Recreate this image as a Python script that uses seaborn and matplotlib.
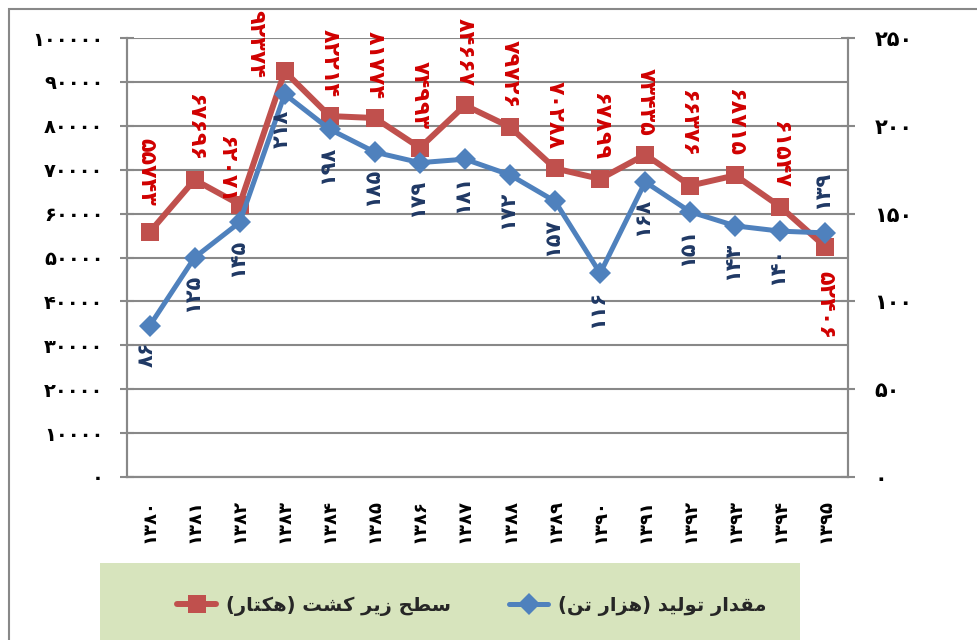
import matplotlib
matplotlib.use("Agg")
import matplotlib.pyplot as plt
import seaborn as sns
import pandas as pd
import numpy as np
from matplotlib.lines import Line2D
from matplotlib.patches import Rectangle
from matplotlib import font_manager
from matplotlib.ft2font import FT2Font

# ---------------- data ----------------
years = [1380, 1381, 1382, 1383, 1384, 1385, 1386, 1387,
         1388, 1389, 1390, 1391, 1392, 1393, 1394, 1395]
area_ha = [55743, 67696, 62071, 92374, 82214, 81774, 74993, 84667,
           79726, 70288, 67899, 73435, 66376, 68715, 61547, 52406]
production_kt = [86, 125, 145, 218, 198, 185, 179, 181,
                 172, 157, 116, 168, 151, 143, 140, 139]
left_ticks = [0, 10000, 20000, 30000, 40000, 50000, 60000, 70000, 80000, 90000, 100000]
right_ticks = [0, 50, 100, 150, 200, 250]
label_area = "سطح زیر کشت (هکتار)"
label_prod = "مقدار تولید (هزار تن)"

# label placement tweaks (pixels) for a few crowded red labels
red_label_shift = {1380: (-3, 8), 1382: (-14, -18), 1383: (-29, -26), 1392: (-2, 10)}

# ---------------- helpers ----------------
sns.set_theme(style="white")
plt.rcParams['font.family'] = ['DejaVu Sans']

def font_has(weight, chars):
    path = font_manager.findfont(font_manager.FontProperties(family='DejaVu Sans', weight=weight))
    cmap = FT2Font(path).get_charmap()
    return all(ord(c) in cmap for c in chars)

FA = str.maketrans('0123456789', '۰۱۲۳۴۵۶۷۸۹')
def fa(n):
    return str(n).translate(FA)

FORMS = {
    'ا': ('\uFE8D', '\uFE8E', None, None),
    'د': ('\uFEA9', '\uFEAA', None, None),
    'ر': ('\uFEAD', '\uFEAE', None, None),
    'ز': ('\uFEAF', '\uFEB0', None, None),
    'و': ('\uFEED', '\uFEEE', None, None),
    'ت': ('\uFE95', '\uFE96', '\uFE97', '\uFE98'),
    'ح': ('\uFEA1', '\uFEA2', '\uFEA3', '\uFEA4'),
    'س': ('\uFEB1', '\uFEB2', '\uFEB3', '\uFEB4'),
    'ش': ('\uFEB5', '\uFEB6', '\uFEB7', '\uFEB8'),
    'ط': ('\uFEC1', '\uFEC2', '\uFEC3', '\uFEC4'),
    'ق': ('\uFED5', '\uFED6', '\uFED7', '\uFED8'),
    'ک': ('\uFB8E', '\uFB8F', '\uFB90', '\uFB91'),
    'ل': ('\uFEDD', '\uFEDE', '\uFEDF', '\uFEE0'),
    'م': ('\uFEE1', '\uFEE2', '\uFEE3', '\uFEE4'),
    'ن': ('\uFEE5', '\uFEE6', '\uFEE7', '\uFEE8'),
    'ه': ('\uFEE9', '\uFEEA', '\uFEEB', '\uFEEC'),
    'ی': ('\uFBFC', '\uFBFD', '\uFBFE', '\uFBFF'),
}
ALT = {
    'ک': ('\uFED9', '\uFEDA', '\uFEDB', '\uFEDC'),
    'ی': ('\uFEEF', '\uFEF0', '\uFEF3', '\uFEF4'),
}

weight = 'bold' if font_has('bold', '\uFEE1\u06F1') else 'normal'
for k, v in ALT.items():
    if not font_has(weight, ''.join(FORMS[k])):
        FORMS[k] = v

def shape(text):
    out = []
    n = len(text)
    for i, ch in enumerate(text):
        if ch not in FORMS:
            out.append(ch)
            continue
        iso, fin, ini, med = FORMS[ch]
        prev = text[i - 1] if i > 0 else ''
        nxt = text[i + 1] if i + 1 < n else ''
        join_prev = prev in FORMS and FORMS[prev][2] is not None
        join_next = ini is not None and nxt in FORMS
        if join_prev and join_next:
            out.append(med)
        elif join_prev:
            out.append(fin)
        elif join_next:
            out.append(ini)
        else:
            out.append(iso)
    vis = ''.join(reversed(out))
    vis = vis.translate(str.maketrans('()', ')('))
    return vis

PX = 0.72  # points per pixel at 100 dpi

# ---------------- figure ----------------
W, H = 977, 640
fig = plt.figure(figsize=(W / 100, H / 100), dpi=100)
ax = fig.add_axes([127 / W, 1 - 477 / H, (848 - 127) / W, (477 - 38) / H])
ax2 = ax.twinx()

GRID = '#888888'
RED = '#C0504D'
BLUE = '#4F81BD'

df = pd.DataFrame({'pos': np.arange(len(years)), 'area': area_ha, 'prod': production_kt})

sns.lineplot(data=df, x='pos', y='area', ax=ax, color=RED, lw=4.3, marker='s',
             markersize=13, markeredgewidth=0, zorder=3)
sns.lineplot(data=df, x='pos', y='prod', ax=ax2, color=BLUE, lw=3.6, marker='D',
             markersize=11, markeredgewidth=0, zorder=4)

ax.set_xlim(-0.5, len(years) - 0.5)
ax.set_ylim(0, 100000)
ax2.set_ylim(0, 250)

ax.set_yticks(left_ticks)
ax.set_yticklabels([fa(t) for t in left_ticks])
ax2.set_yticks(right_ticks)
ax2.set_yticklabels([fa(t) for t in right_ticks])
ax.set_xticks(np.arange(len(years)))
ax.set_xticklabels([fa(y) for y in years], rotation=90)
ax.set_xticks(np.arange(len(years) + 1) - 0.5, minor=True)
ax.set_xlabel('')
ax.set_ylabel('')
ax2.set_ylabel('')

ax.tick_params(axis='y', direction='inout', length=10, width=1.5, color=GRID, pad=12,
               labelsize=14, labelcolor='black')
ax2.tick_params(axis='y', direction='inout', length=10, width=1.5, color=GRID, pad=14,
                labelsize=15, labelcolor='black')
ax.tick_params(axis='x', which='major', length=0, pad=16, labelsize=13, labelcolor='black')
ax.tick_params(axis='x', which='minor', direction='out', length=7, width=1.5, color=GRID)
for lab in ax.get_xticklabels() + ax.get_yticklabels() + ax2.get_yticklabels():
    lab.set_fontweight(weight)

ax.grid(axis='y', color=GRID, lw=1.5)
ax.set_axisbelow(True)
for a in (ax, ax2):
    for s in a.spines.values():
        s.set_color(GRID)
        s.set_linewidth(1.5)
    a.spines['top'].set_visible(False)

# ---------------- data labels ----------------
for i in range(len(years)):
    red_frac = area_ha[i] / 100000
    blue_frac = production_kt[i] / 250
    red_above = red_frac >= blue_frac
    dx, dy = red_label_shift.get(years[i], (0, 0))
    if red_above:
        rxy = ((dx) * PX, (19 + dy) * PX)
    else:
        rxy = (0, -24 * PX)
    ax.annotate(fa(area_ha[i]), (i, area_ha[i]), xytext=rxy,
                textcoords='offset points', rotation=-90, ha='center',
                va='bottom' if red_above else 'top', color='#D00000',
                fontsize=16, fontweight=weight, zorder=6)
    ax2.annotate(fa(production_kt[i]), (i, production_kt[i]),
                 xytext=(-3 * PX, (-16 if red_above else 24) * PX),
                 textcoords='offset points', rotation=90, ha='center',
                 va='top' if red_above else 'bottom', color='#1F3864',
                 fontsize=15, fontweight=weight, zorder=6)

# ---------------- legend ----------------
fig.patches.append(Rectangle((100 / W, 0), 700 / W, (640 - 563) / H,
                             transform=fig.transFigure, facecolor='#D7E4BD',
                             edgecolor='none', zorder=0))
fig.patches.append(Rectangle((9 / W, -0.2), 1.5, 1.2 - 9 / H, transform=fig.transFigure,
                             fill=False, edgecolor=GRID, lw=1.5, zorder=0))
handles = [Line2D([], [], color=RED, lw=4.3, marker='s', markersize=13, markeredgewidth=0),
           Line2D([], [], color=BLUE, lw=3.6, marker='D', markersize=11, markeredgewidth=0)]
fig.legend(handles, [shape(label_area), shape(label_prod)], ncol=2, loc='center',
           bbox_to_anchor=(472 / W, 1 - 606 / H), frameon=False, handlelength=2.0,
           columnspacing=3.0, handletextpad=0.5,
           prop=dict(size=14, weight=weight, family='DejaVu Sans'))

fig.savefig('out.png', dpi=100)
